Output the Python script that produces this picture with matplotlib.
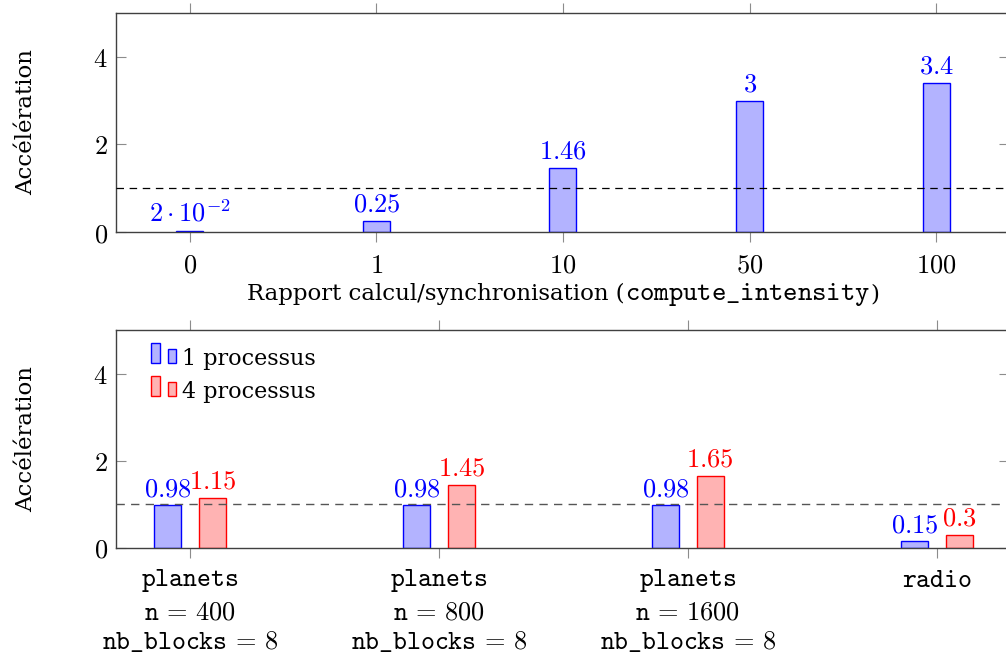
import matplotlib
matplotlib.use("Agg")
import matplotlib.pyplot as plt
from matplotlib.patches import Rectangle
from matplotlib.legend_handler import HandlerBase
from matplotlib.offsetbox import TextArea, HPacker, AnchoredOffsetbox
import numpy as np

# ---- data ----
top_categories = ["0", "1", "10", "50", "100"]
top_values = [0.02, 0.25, 1.46, 3.0, 3.4]
top_labels = [r"$2\cdot10^{-2}$", r"$0.25$", r"$1.46$", r"$3$", r"$3.4$"]

bottom_categories = [
    r"$\mathtt{planets}$" + "\n" + r"$\mathtt{n}\,=\,400$" + "\n" + r"$\mathtt{nb\_blocks}\,=\,8$",
    r"$\mathtt{planets}$" + "\n" + r"$\mathtt{n}\,=\,800$" + "\n" + r"$\mathtt{nb\_blocks}\,=\,8$",
    r"$\mathtt{planets}$" + "\n" + r"$\mathtt{n}\,=\,1600$" + "\n" + r"$\mathtt{nb\_blocks}\,=\,8$",
    r"$\mathtt{radio}$",
]
one_proc = [0.98, 0.98, 0.98, 0.15]
four_proc = [1.15, 1.45, 1.65, 0.3]
one_labels = ["0.98", "0.98", "0.98", "0.15"]
four_labels = ["1.15", "1.45", "1.65", "0.3"]
series_names = ["1 processus", "4 processus"]
yticks = [0, 2, 4]

# ---- style ----
plt.rcParams["font.family"] = ["DejaVu Serif"]
plt.rcParams["mathtext.fontset"] = "cm"

BLUE_EDGE = "#0000ff"
BLUE_FILL = "#b3b3ff"
RED_EDGE = "#ff0000"
RED_FILL = "#ffb3b3"
SPINE = "#404040"
TICK = "#8c8c8c"
FS = 19
TXT = 16.5
MONO = 19.7

W, H = 1006, 658
fig = plt.figure(figsize=(W / 100, H / 100), dpi=100)

def frac(l, t, r, b):
    return [l / W, (H - b) / H, (r - l) / W, (b - t) / H]

ax1 = fig.add_axes(frac(116, 13, 1009, 232))
ax2 = fig.add_axes(frac(116, 330, 1009, 548))

def style(ax):
    for s in ax.spines.values():
        s.set_color(SPINE)
        s.set_linewidth(1.0)
    ax.tick_params(axis="x", which="both", direction="out", top=True, bottom=True,
                   length=7, width=0.8, color=TICK, labelsize=FS, pad=8)
    ax.tick_params(axis="y", which="both", direction="in", left=True, right=True,
                   length=7.5, width=0.8, color=TICK, labelsize=FS, pad=6)
    ax.set_ylim(0, 5)
    ax.set_yticks(yticks)
    ax.set_yticklabels([f"${v}$" for v in yticks])
    ax.set_ylabel("Accélération", fontsize=TXT)
    ax.yaxis.set_label_coords(-0.088, 0.5)

# ---- top panel ----
x1 = np.arange(len(top_categories))
ax1.bar(x1, top_values, width=0.145, color=BLUE_FILL, edgecolor=BLUE_EDGE, linewidth=1.0, zorder=2)
ax1.axhline(1, color="black", lw=0.9, ls=(0, (6, 4.5)), zorder=3)
for xi, v, lab in zip(x1, top_values, top_labels):
    ax1.annotate(lab, (xi, v), xytext=(0, 3), textcoords="offset points",
                 ha="center", va="bottom", color=BLUE_EDGE, fontsize=FS)
ax1.set_xlim(-0.395, 4.39)
ax1.set_xticks(x1)
ax1.set_xticklabels([f"${c}$" for c in top_categories])
style(ax1)

xlabel_box = HPacker(children=[
    TextArea("Rapport calcul/synchronisation (", textprops=dict(fontsize=TXT)),
    TextArea(r"$\mathtt{compute\_intensity}$", textprops=dict(fontsize=MONO)),
    TextArea(")", textprops=dict(fontsize=TXT)),
], align="baseline", pad=0, sep=0)
ax1.add_artist(AnchoredOffsetbox(loc="center", child=xlabel_box, frameon=False, pad=0,
                                 borderpad=0, bbox_to_anchor=(0.5006, -0.283),
                                 bbox_transform=ax1.transAxes))

# ---- bottom panel ----
x2 = np.arange(len(bottom_categories))
off, bw = 0.09, 0.11
ax2.bar(x2 - off, one_proc, width=bw, color=BLUE_FILL, edgecolor=BLUE_EDGE, linewidth=1.0, zorder=2)
ax2.bar(x2 + off, four_proc, width=bw, color=RED_FILL, edgecolor=RED_EDGE, linewidth=1.0, zorder=2)
ax2.axhline(1, color="#555555", lw=1.0, ls=(0, (6, 4.5)), zorder=3)
for xi, v, lab in zip(x2, one_proc, one_labels):
    ax2.annotate(f"${lab}$", (xi - off, v), xytext=(0, 3), textcoords="offset points",
                 ha="center", va="bottom", color=BLUE_EDGE, fontsize=FS)
for xi, v, lab in zip(x2, four_proc, four_labels):
    ax2.annotate(f"${lab}$", (xi + off, v), xytext=(0, 3), textcoords="offset points",
                 ha="center", va="bottom", color=RED_EDGE, fontsize=FS)
ax2.set_xlim(-0.297, 3.29)
ax2.set_xticks(x2)
ax2.set_xticklabels(bottom_categories, linespacing=1.25)
style(ax2)
ax2.tick_params(axis="x", pad=7)
for t in ax2.get_xticklabels():
    t.set_verticalalignment("top")


class TwoBarHandler(HandlerBase):
    def __init__(self, face, edge):
        super().__init__()
        self.face, self.edge = face, edge

    def create_artists(self, legend, orig_handle, xdescent, ydescent, width, height, fontsize, trans):
        y0 = -ydescent + height * 0.1
        r1 = Rectangle((-xdescent, y0), width * 0.36, height * 1.31, facecolor=self.face,
                       edgecolor=self.edge, lw=1.0, transform=trans)
        r2 = Rectangle((-xdescent + width * 0.68, y0), width * 0.32, height * 0.94,
                       facecolor=self.face, edgecolor=self.edge, lw=1.0, transform=trans)
        return [r1, r2]


hb = Rectangle((0, 0), 1, 1)
hr = Rectangle((0, 0), 1, 1)
ax2.legend([hb, hr], series_names, loc="upper left", bbox_to_anchor=(0.039, 0.918),
           frameon=False, fontsize=16, handlelength=1.12, handletextpad=0.3,
           labelspacing=0.5, borderaxespad=0, borderpad=0,
           handler_map={hb: TwoBarHandler(BLUE_FILL, BLUE_EDGE), hr: TwoBarHandler(RED_FILL, RED_EDGE)})

fig.savefig("out.png", dpi=100)
